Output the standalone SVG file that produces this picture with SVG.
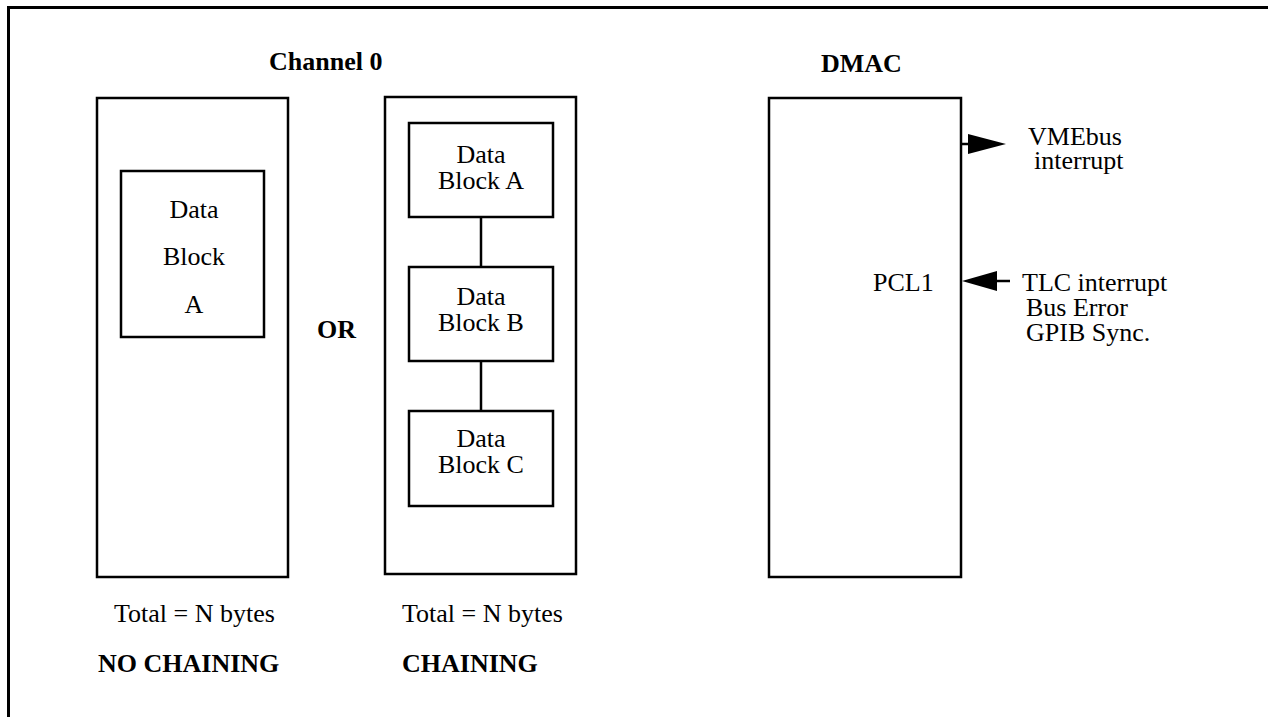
<svg xmlns="http://www.w3.org/2000/svg" width="1268" height="717" viewBox="0 0 1268 717">
<style>
text{font-family:"Liberation Serif","Times New Roman",serif;font-size:26px;fill:#000}
.b{font-weight:bold}
.m{text-anchor:middle}
.box{fill:#fff;stroke:#000;stroke-width:2.5}
.ln{stroke:#000;stroke-width:2.5;fill:none}
</style>
<rect width="1268" height="717" fill="#fff"/>
<path d="M8.5 717 V7.5 H1268" fill="none" stroke="#000" stroke-width="3"/>
<text class="b" x="269" y="70">Channel 0</text>
<text class="b" x="821" y="72">DMAC</text>
<text class="b" x="317" y="338">OR</text>
<g id="no-chain">
<rect class="box" x="97" y="98" width="191" height="479"/>
<g id="block-a-single">
<rect class="box" x="121" y="171" width="143" height="166"/>
<text class="m" x="194" y="218">Data</text>
<text class="m" x="194" y="265">Block</text>
<text class="m" x="194" y="313">A</text>
</g>
</g>
<g id="chain">
<rect class="box" x="385" y="97" width="191" height="477"/>
</g>
<g id="connectors">
<line class="ln" x1="481" y1="217" x2="481" y2="267"/>
<line class="ln" x1="481" y1="361" x2="481" y2="411"/>
<line class="ln" x1="961" y1="144" x2="970" y2="144"/>
<polygon points="968,134 1006,144 968,154" fill="#000"/>
<line class="ln" x1="995" y1="281" x2="1010" y2="281"/>
<polygon points="962,281 997,271 997,291" fill="#000"/>
</g>
<g id="block-a">
<rect class="box" x="409" y="123" width="144" height="94"/>
<text class="m" x="481" y="163">Data</text>
<text class="m" x="481" y="189">Block A</text>
</g>
<g id="block-b">
<rect class="box" x="409" y="267" width="144" height="94"/>
<text class="m" x="481" y="305">Data</text>
<text class="m" x="481" y="331">Block B</text>
</g>
<g id="block-c">
<rect class="box" x="409" y="411" width="144" height="95"/>
<text class="m" x="481" y="447">Data</text>
<text class="m" x="481" y="473">Block C</text>
</g>
<g id="dmac">
<rect class="box" x="769" y="98" width="192" height="479"/>
<text x="873" y="291">PCL1</text>
</g>
<g id="labels">
<text x="1028" y="145">VMEbus</text>
<text x="1034" y="169">interrupt</text>
<text x="1022" y="291">TLC interrupt</text>
<text x="1026" y="316">Bus Error</text>
<text x="1026" y="341">GPIB Sync.</text>
<text x="114" y="622">Total = N bytes</text>
<text x="402" y="622">Total = N bytes</text>
<text class="b" x="98" y="672">NO CHAINING</text>
<text class="b" x="402" y="672">CHAINING</text>
</g>
</svg>
